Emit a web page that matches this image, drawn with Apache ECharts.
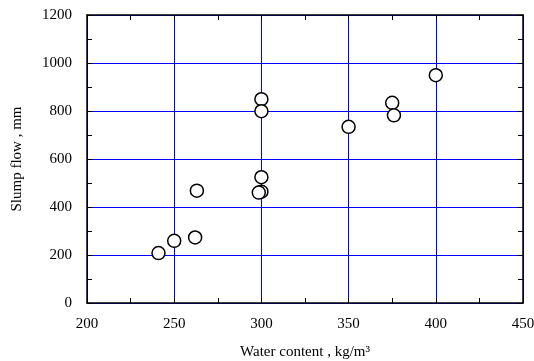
<!DOCTYPE html>
<html>
<head>
<meta charset="utf-8">
<script src="https://cdn.jsdelivr.net/npm/echarts@6/dist/echarts.min.js"></script>
<style>
  html, body { margin: 0; padding: 0; background: #fff; }
  #chart { width: 534px; height: 361px; }
</style>
</head>
<body>
<div id="chart"></div>
<script>
var waterContent = [241, 250, 262, 263, 300, 300, 298.5, 300, 300, 350, 375, 376, 400];
var slumpFlow = [208, 259, 273, 468, 524, 464, 460, 849, 799, 734, 834, 782, 949];

var points = waterContent.map(function (w, i) { return [w, slumpFlow[i]]; });

var chart = echarts.init(document.getElementById('chart'));

var font = 'Liberation Serif';

function axisBase(show) {
    return {
        axisLine: { show: true, onZero: false, lineStyle: { color: '#000', width: 1.5 } },
        axisTick: { show: true, inside: true, length: 5, lineStyle: { color: '#000' } },
        minorTick: { show: true, splitNumber: 2, length: 5, lineStyle: { color: '#000' } },
        axisLabel: { show: show, color: '#000', fontFamily: font, fontSize: 15,
            formatter: function (v) { return String(v); } },
        splitLine: { show: false }
    };
}

var xBottom = Object.assign(axisBase(true), {
    type: 'value', min: 200, max: 450, interval: 50, position: 'bottom',
    name: 'Water content , kg/m\u00b3', nameLocation: 'middle', nameGap: 42,
    nameTextStyle: { color: '#000', fontFamily: font, fontSize: 15 },
    splitLine: { show: true, lineStyle: { color: '#0000ff', width: 1 } }
});
xBottom.axisLabel.margin = 14;
var xTop = Object.assign(axisBase(false), {
    type: 'value', min: 200, max: 450, interval: 50, position: 'top'
});
var yLeft = Object.assign(axisBase(true), {
    type: 'value', min: 0, max: 1200, interval: 200, position: 'left',
    name: 'Slump flow , mm', nameLocation: 'middle', nameGap: 62,
    nameTextStyle: { color: '#000', fontFamily: font, fontSize: 15 },
    splitLine: { show: true, lineStyle: { color: '#0000ff', width: 1 } }
});
yLeft.axisLabel.margin = 15;
var yRight = Object.assign(axisBase(false), {
    type: 'value', min: 0, max: 1200, interval: 200, position: 'right'
});

chart.setOption({
    animation: false,
    grid: { left: 87, right: 11, top: 15, bottom: 58, containLabel: false, outerBoundsMode: 'none' },
    xAxis: [xBottom, xTop],
    yAxis: [yLeft, yRight],
    series: [
        {
            type: 'scatter',
            data: points,
            symbol: 'circle',
            symbolSize: 13,
            itemStyle: { color: '#fff', borderColor: '#000', borderWidth: 1.5, opacity: 1 }
        }
    ]
});
</script>
</body>
</html>
